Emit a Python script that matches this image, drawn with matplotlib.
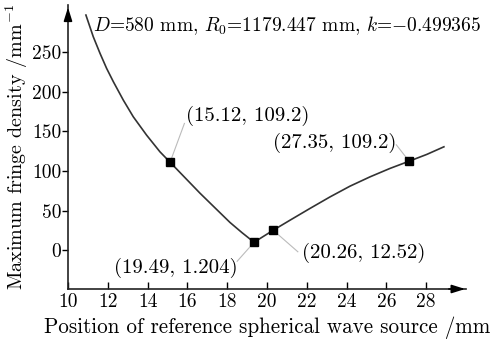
import matplotlib
matplotlib.use("Agg")
import matplotlib.pyplot as plt

plt.rcParams['font.family'] = ['cmr10', 'DejaVu Serif']
plt.rcParams['mathtext.fontset'] = 'cm'
plt.rcParams['axes.formatter.use_mathtext'] = True

# curve
curve_x = [10.90, 11.27, 11.61, 11.94, 12.28, 12.78, 13.28, 13.95, 14.62, 15.13,
           15.88, 16.63, 17.38, 18.14, 18.75, 19.35,
           20.32, 21.16, 22.16, 23.17, 24.17, 25.18, 26.18, 27.15, 28.03, 28.89]
curve_y = [296.8, 269.4, 248.4, 229.5, 212.6, 189.4, 168.4, 145.2, 124.2, 111.0,
           91.5, 72.0, 53.6, 35.0, 22.0, 10.0,
           25.3, 37.9, 52.7, 67.3, 80.8, 92.6, 103.2, 112.4, 120.9, 130.5]

mark_x = [15.13, 19.35, 20.32, 27.15]
mark_y = [111, 10, 25, 112]
mark_labels = ["(15.12, 109.2)", "(19.49, 1.204)", "(20.26, 12.52)", "(27.35, 109.2)"]
label_pos = [(15.95, 170), (18.5, -22), (21.75, -4), (26.5, 136)]
label_ha = ['left', 'right', 'left', 'right']
leader_end = [(15.85, 160), (18.5, -14), (21.55, -2), (26.5, 133)]

xticks = [10, 12, 14, 16, 18, 20, 22, 24, 26, 28]
yticks = [0, 50, 100, 150, 200, 250]

fig = plt.figure(figsize=(4.92, 3.42), dpi=100)
ax = fig.add_axes([68/492, 53/342, (466-68)/492, (289-4.6)/342])
ax.set_xlim(10, 30)
ax.set_ylim(-49, 310)

ax.plot(curve_x, curve_y, color='#333333', lw=1.2, zorder=3)
ax.plot(mark_x, mark_y, 's', color='black', ms=5.5, zorder=4, ls='none')

for (mx, my), lab, (tx, ty), ha, (lx, ly) in zip(zip(mark_x, mark_y), mark_labels, label_pos, label_ha, leader_end):
    ax.plot([mx, lx], [my, ly], color='#bbbbbb', lw=0.8, zorder=2)
    ax.text(tx, ty, lab, ha=ha, va='center', fontsize=15)

ax.text(11.25, 283, r"$D$=580 mm, $R_0$=1179.447 mm, $k$=$-$0.499365", fontsize=14, ha='left', va='center')

for s in ['top', 'right']:
    ax.spines[s].set_visible(False)
for s in ['left', 'bottom']:
    ax.spines[s].set_linewidth(1.2)
    ax.spines[s].set_color('#222222')

ax.set_xticks(xticks)
ax.set_yticks(yticks)
ax.set_xticklabels([str(v) for v in xticks])
ax.set_yticklabels([str(v) for v in yticks])
ax.tick_params(axis='x', direction='in', length=5, width=1, labelsize=14, pad=3)
ax.tick_params(axis='y', direction='out', length=4, width=1, labelsize=14, pad=1)

ax.annotate('', xy=(1.005, 0), xytext=(0.95, 0), xycoords='axes fraction',
            arrowprops=dict(arrowstyle='-|>,head_length=0.8,head_width=0.25', color='black', lw=1.2))
ax.annotate('', xy=(0, 1.0), xytext=(0, 0.95), xycoords='axes fraction',
            arrowprops=dict(arrowstyle='-|>,head_length=0.8,head_width=0.25', color='black', lw=1.2))

ax.set_xlabel("Position of reference spherical wave source /mm", fontsize=15.2, labelpad=4)
ax.set_ylabel(r"Maximum fringe density /mm$^{-1}$", fontsize=14.5, labelpad=1)

fig.savefig("out.png", dpi=100, facecolor='white')
